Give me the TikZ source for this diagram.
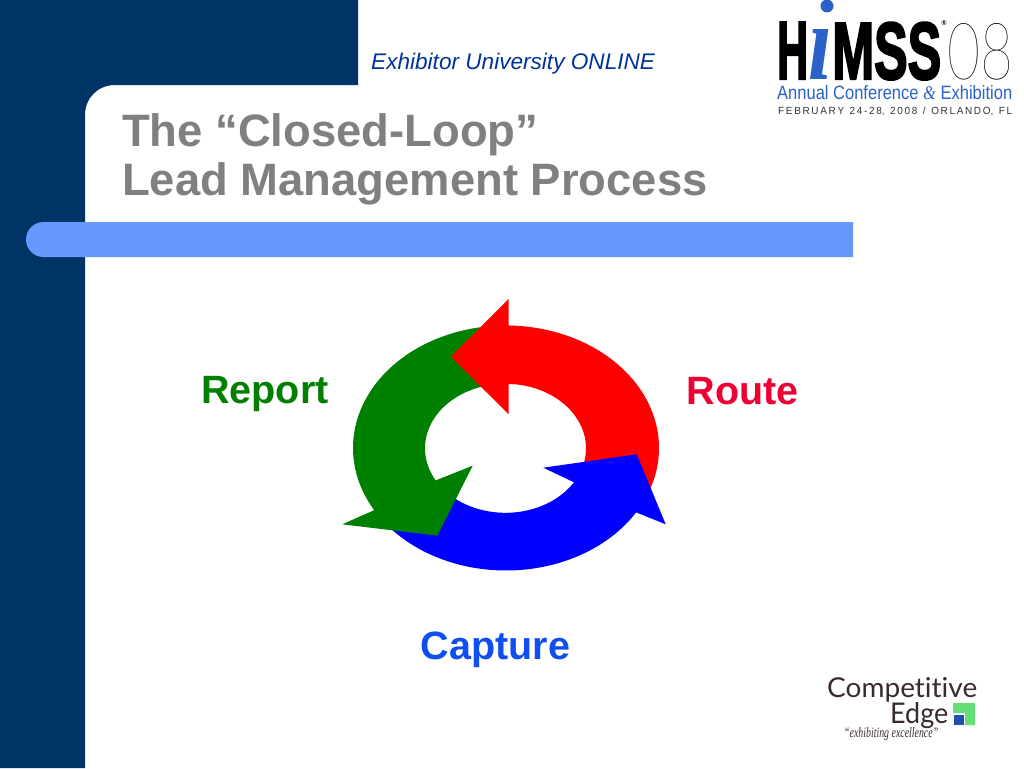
\documentclass[tikz,border=0pt]{standalone}
\usepackage{fontspec}
\setmainfont{Liberation Sans}
\newfontfamily\heavyfont{Liberation Sans}[UprightFont=* Bold, UprightFeatures={FakeBold=3}]
\newfontfamily\hairfont{Lato}[UprightFont=* Hairline]
\newfontfamily\humanfont{Lato}[Ligatures=NoCommon]
\newfontfamily\seriffont{Liberation Serif}
\definecolor{navyband}{HTML}{003366}
\definecolor{barblue}{HTML}{6699FF}
\definecolor{titlegray}{HTML}{808080}
\definecolor{uniblue}{HTML}{003399}
\definecolor{reportgreen}{HTML}{007F00}
\definecolor{routered}{HTML}{EE0033}
\definecolor{captureblue}{HTML}{0F4FF0}
\definecolor{himssblue}{HTML}{2A62C8}
\definecolor{edgedark}{HTML}{3A2A30}
\definecolor{edgegreen}{HTML}{66DD77}
\definecolor{edgeblue}{HTML}{1F4FA8}
\newcommand{\fitbox}[3]{\resizebox{#1pt}{#2pt}{#3}}
\tikzset{
    stagelabel/.style={font=\fontsize{39.5}{40}\selectfont\bfseries, inner sep=0pt, anchor=base},
    logotext/.style={inner sep=0pt, anchor=base west},
}
\begin{document}
\begin{tikzpicture}[x=1pt, y=-1pt]
    \useasboundingbox (0,0) rectangle (1024,768);
    \fill[white] (0,0) rectangle (1024,768);

    % Navy band with rounded inner corner
    \fill[navyband] (0,0) -- (358,0) -- (358,85) -- (115,85) .. controls (98,85) and (85,98) .. (85,115) -- (85,768) -- (0,768) -- cycle;

    % Title bar
    \fill[barblue] (853,222) -- (853,257) -- (43.5,257) arc[start angle=90, end angle=270, radius=17.5] -- cycle;

    % Header and title
    \node[logotext, text=uniblue, font=\fontsize{22.6}{24}\selectfont\itshape] (header) at (371,70) {Exhibitor University ONLINE};
    \node[logotext, text=titlegray, font=\fontsize{45.4}{49}\selectfont\bfseries, align=left, anchor=north west] (title) at (122,113) {The “Closed-Loop”\\Lead Management Process};

    % Red arrow body
    \fill[red] plot[domain=-89:19, samples=50] ({506+153*cos(\x)}, {448+122.5*sin(\x)})
        -- plot[domain=14:-89, samples=50] ({505.5+80.5*cos(\x)}, {448.3+64.5*sin(\x)}) -- cycle;

    % Blue arrow
    \fill[blue] plot[domain=140:31.7, samples=60] ({506+153*cos(\x)}, {448+122.5*sin(\x)})
        -- (665.7,524.3) -- (636.7,454.3) -- (543.3,467.7) -- (574,482.3)
        -- plot[domain=32:135, samples=50] ({505.5+80.5*cos(\x)}, {448.3+64.5*sin(\x)}) -- cycle;

    % Green arrow
    \fill[green!50!black] plot[domain=262:149.5, samples=60] ({506+153*cos(\x)}, {448+122.5*sin(\x)})
        -- (342.3,524.3) -- (437.3,535.7) -- (472.7,465.7) -- (436.7,480)
        -- plot[domain=150:255, samples=50] ({505.5+80.5*cos(\x)}, {448.3+64.5*sin(\x)}) -- cycle;

    % Red arrow head goes over the green
    \fill[red] (450.7,356.7) -- (508.7,299) -- (508.7,325.7) -- (515,326) -- (515,384) -- (508.7,384) -- (508.7,414.3) -- cycle;

    % Stage labels
    \node[stagelabel, text=reportgreen] (report) at (265,403) {Report};
    \node[stagelabel, text=routered] (route) at (742.5,404) {Route};
    \node[stagelabel, text=captureblue] (capture) at (495.5,659) {Capture};

    % HIMSS logo
    \fill[himssblue] (827,6) circle (6.5);
    \node[logotext] (himssH) at (777,79) {\fitbox{31}{56.5}{\heavyfont H}};
    \node[logotext] (himssM) at (832,79) {\fitbox{109}{56.5}{\heavyfont MSS}};
    \node[logotext, text=himssblue] (himssI) at (808,79) {\fitbox{24}{50}{\seriffont\bfseries\itshape ı}};
    \node[logotext] (himss08) at (947,79) {\fitbox{66}{56}{\hairfont 08}};
    \node[logotext] (himssR) at (941.5,26) {\fitbox{5}{5}{\bfseries ®}};
    \node[logotext, text=himssblue] (himssconf) at (777,99) {\fitbox{235}{14}{Annual Conference {\seriffont\itshape\&} Exhibition}};
    \node[logotext, text=black!80] (himssdate) at (778,114.5) {\fitbox{234}{7.5}{F\,E\,B\,R\,U\,A\,R\,Y\ \ 2\,4\,-\,2\,8,\ \ 2\,0\,0\,8\ \ /\ \ O\,R\,L\,A\,N\,D\,O,\ \ F\,L}};

    % Competitive Edge logo
    \node[logotext, text=edgedark] (edgetop) at (827,697) {\fitbox{150}{20}{\humanfont Competitive}};
    \node[logotext, text=edgedark] (edgemid) at (890,723) {\fitbox{58}{21}{\humanfont Edge}};
    \node[logotext, text=edgedark] (edgetag) at (844,737) {\fitbox{94}{10}{\seriffont\itshape “exhibiting excellence”}};
    \fill[edgegreen] (953,703) -- (975,703) -- (975,725) -- (965,725) -- (965,713) -- (953,713) -- cycle;
    \fill[edgeblue] (954,715) rectangle (964,725);
\end{tikzpicture}
\end{document}
